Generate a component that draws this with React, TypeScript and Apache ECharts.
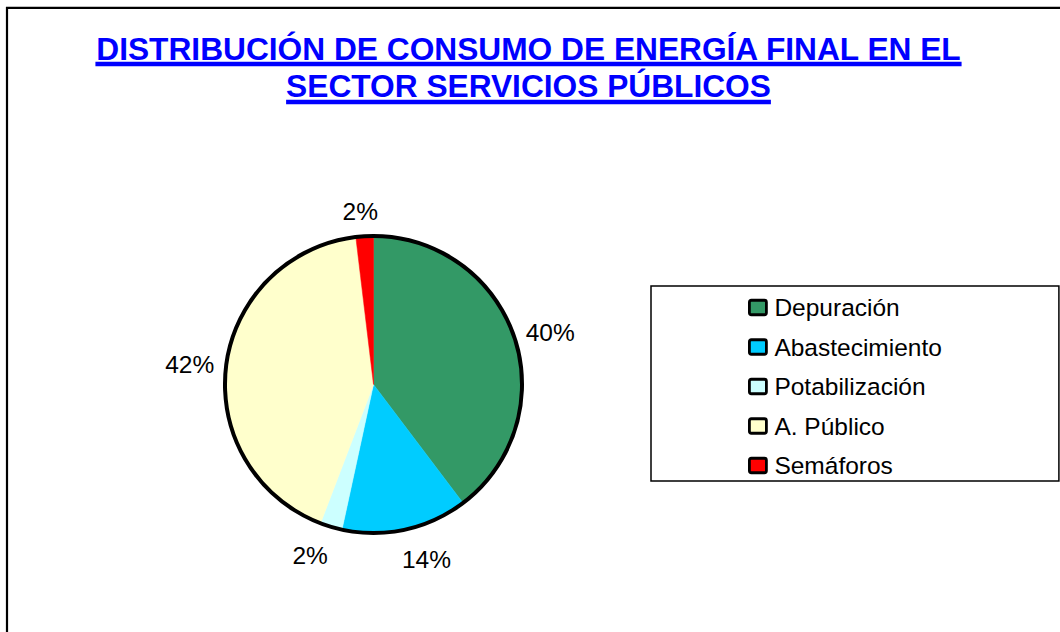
import React, { useEffect, useRef } from 'react';
import * as echarts from 'echarts';

const TITLE_LINES = ['DISTRIBUCIÓN DE CONSUMO DE ENERGÍA FINAL EN EL', 'SECTOR SERVICIOS PÚBLICOS'];
const categories = ['Depuración', 'Abastecimiento', 'Potabilización', 'A. Público', 'Semáforos'];
const shares = [39.7, 13.7, 2.4, 42.3, 1.9];
const colors = ['#339966', '#00CCFF', '#CCFFFF', '#FFFFCC', '#FF0000'];

const FONT = '"Liberation Sans", Arial, Helvetica, sans-serif';

export default function App() {
  const ref = useRef<HTMLDivElement>(null);

  useEffect(() => {
    const el = ref.current!;
    const chart = echarts.init(el, null, { renderer: 'svg' });

    const titleSize = 31.7;
    const ctx = document.createElement('canvas').getContext('2d')!;
    ctx.font = `bold ${titleSize}px ${FONT}`;
    const cx = 528.5;
    const lineY = [48.5, 86];
    const ulY = [61.8, 99.8];

    const graphics: any[] = [
      {
        type: 'rect',
        shape: { x: 7, y: 7.9, width: 1100, height: 700 },
        style: { fill: 'none', stroke: '#000', lineWidth: 2.2 },
        silent: true,
        z: 10,
      },
    ];
    TITLE_LINES.forEach((t, i) => {
      const w = ctx.measureText(t).width;
      graphics.push({
        type: 'text',
        x: cx,
        y: lineY[i],
        silent: true,
        style: {
          text: t,
          fill: '#0000FF',
          font: `bold ${titleSize}px ${FONT}`,
          align: 'center',
          verticalAlign: 'middle',
          textAlign: 'center',
          textVerticalAlign: 'middle',
        },
      });
      graphics.push({
        type: 'rect',
        silent: true,
        shape: { x: cx - w / 2, y: ulY[i], width: w, height: 4.4 },
        style: { fill: '#0000FF' },
      });
    });

    const total = shares.reduce((a, b) => a + b, 0);

    chart.setOption({
      animation: false,
      backgroundColor: '#ffffff',
      graphic: { elements: graphics },
      legend: {
        orient: 'vertical',
        left: 651,
        top: 286,
        padding: [9, 117, 3, 97],
        borderColor: '#000',
        borderWidth: 1.5,
        itemWidth: 17,
        itemHeight: 14.5,
        itemGap: 14.5,
        icon: 'path://M2,0 L15,0 Q17,0 17,2 L17,12.5 Q17,14.5 15,14.5 L2,14.5 Q0,14.5 0,12.5 L0,2 Q0,0 2,0 Z',
        selectedMode: false,
        itemStyle: { borderColor: '#000', borderWidth: 2.8 },
        textStyle: {
          fontSize: 24.5,
          fontFamily: FONT,
          color: '#000',
          lineHeight: 25,
          padding: [0, 0, 0, 3],
        },
        data: categories,
      },
      series: [
        {
          type: 'pie',
          center: [373.5, 384.5],
          radius: 148.5,
          startAngle: 90,
          clockwise: true,
          avoidLabelOverlap: false,
          silent: true,
          emphasis: { disabled: true },
          data: categories.map((n, i) => ({
            name: n,
            value: shares[i],
            itemStyle: { color: colors[i], borderColor: colors[i], borderWidth: 0.5 },
          })),
          label: {
            show: true,
            position: 'outside',
            formatter: (p: any) => Math.round(p.percent) + '%',
            fontSize: 24.5,
            fontFamily: FONT,
            color: '#000',
          },
          labelLine: { show: true, length: 12, length2: 0, lineStyle: { opacity: 0 } },
          labelLayout: (p: any) => {
            const pts = p.labelLinePoints;
            if (!pts || pts.length < 2) return {};
            const a = pts[0];
            const b = pts[1];
            let ux = b[0] - a[0];
            let uy = b[1] - a[1];
            const len = Math.hypot(ux, uy) || 1;
            ux /= len;
            uy /= len;
            const w = p.labelRect.width;
            const h = p.labelRect.height;
            const ex = a[0] + ux * 12;
            const ey = a[1] + uy * (uy > 0 ? 18 : 12);
            const ox = Math.sign(ux) * (w / 2) * Math.min(1, Math.abs(ux) * 3.5);
            const oy = uy * Math.abs(uy) * (h / 2);
            return { x: ex + ox, y: ey + oy, align: 'center', verticalAlign: 'middle' };
          },
        },
        {
          type: 'pie',
          center: [373.5, 384.5],
          radius: 148.5,
          silent: true,
          z: 3,
          emphasis: { disabled: true },
          data: [{ name: 'outline', value: total }],
          itemStyle: { color: 'rgba(0,0,0,0)', borderColor: '#000', borderWidth: 4 },
          label: { show: false },
          labelLine: { show: false },
        },
      ],
    });

    return () => chart.dispose();
  }, []);

  return (
    <div
      ref={ref}
      style={{ position: 'absolute', left: 0, top: 0, width: 1060, height: 632 }}
    />
  );
}
